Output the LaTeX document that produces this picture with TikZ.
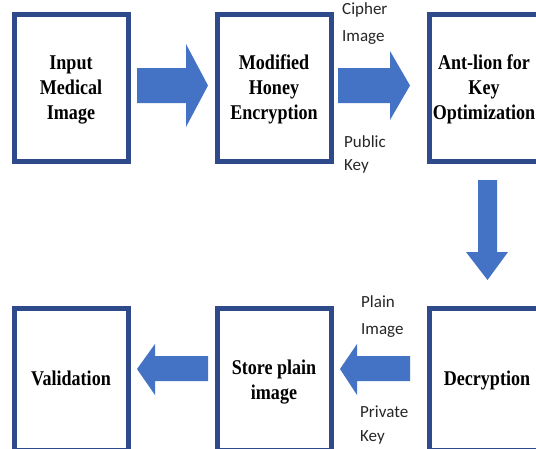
\documentclass[tikz,border=0pt]{standalone}
\usepackage{fontspec}
\setmainfont{Liberation Serif}
\newfontfamily\lblfont{Carlito}
\definecolor{boxline}{HTML}{2E4A8A}
\definecolor{arrowblue}{HTML}{4472C4}
\newcommand{\btxt}[1]{\scalebox{0.86}[1]{\bfseries\fontsize{21}{25}\selectfont\begin{tabular}{@{}c@{}}#1\end{tabular}}}
\begin{document}
\begin{tikzpicture}[x=1pt,y=-1pt,
  blockbox/.style={draw=boxline,line width=5pt,fill=white},
  blocktext/.style={align=center,inner sep=0pt},
  lbl/.style={anchor=west,font=\lblfont\fontsize{17}{19}\selectfont,inner sep=0pt,text=black!85},
  blockarrow/.style={fill=arrowblue,draw=none}]
\useasboundingbox (0,0) rectangle (536,448);
\clip (0,0) rectangle (536,448);
\fill[white] (0,0) rectangle (536,448);
% boxes
\draw[blockbox] (14,14) rectangle (128,161);
\draw[blockbox] (217,14) rectangle (331,161);
\draw[blockbox] (429,14) rectangle (543,161);
\draw[blockbox] (14,308) rectangle (128,450);
\draw[blockbox] (217,308) rectangle (331,450);
\draw[blockbox] (429,308) rectangle (543,450);
% texts
\node[blocktext] (b1) at (71,89) {\btxt{Input\\Medical\\Image}};
\node[blocktext] (b2) at (274,89) {\btxt{Modified\\Honey\\Encryption}};
\node[blocktext] (b3) at (484,89) {\btxt{Ant-lion for\\Key\\Optimization}};
\node[blocktext] (b6) at (71,380) {\btxt{Validation}};
\node[blocktext] (b5) at (274,382) {\btxt{Store plain\\image}};
\node[blocktext] (b4) at (487,380) {\btxt{Decryption}};
% arrows
\fill[blockarrow] (137,68) -- (186,68) -- (186,44) -- (208,85.5) -- (186,127) -- (186,103) -- (137,103) -- cycle;
\fill[blockarrow] (338,68) -- (390,68) -- (390,51) -- (410,85.5) -- (390,120) -- (390,103) -- (338,103) -- cycle;
\fill[blockarrow] (478,180) -- (497,180) -- (497,252) -- (508,252) -- (487.5,280) -- (466,252) -- (478,252) -- cycle;
\fill[blockarrow] (410,356) -- (357,356) -- (357,344) -- (340,369) -- (357,395) -- (357,381) -- (410,381) -- cycle;
\fill[blockarrow] (208,356) -- (155,356) -- (155,344) -- (137,369) -- (155,395) -- (155,381) -- (208,381) -- cycle;
% labels
\node[lbl] (l1) at (342,10) {Cipher};
\node[lbl] (l2) at (342,38) {Image};
\node[lbl] (l3) at (344,142) {Public};
\node[lbl] (l4) at (344,166) {Key};
\node[lbl] (l5) at (361,302) {Plain};
\node[lbl] (l6) at (361,331) {Image};
\node[lbl] (l7) at (360,412) {Private};
\node[lbl] (l8) at (360,437) {Key};
\end{tikzpicture}
\end{document}
